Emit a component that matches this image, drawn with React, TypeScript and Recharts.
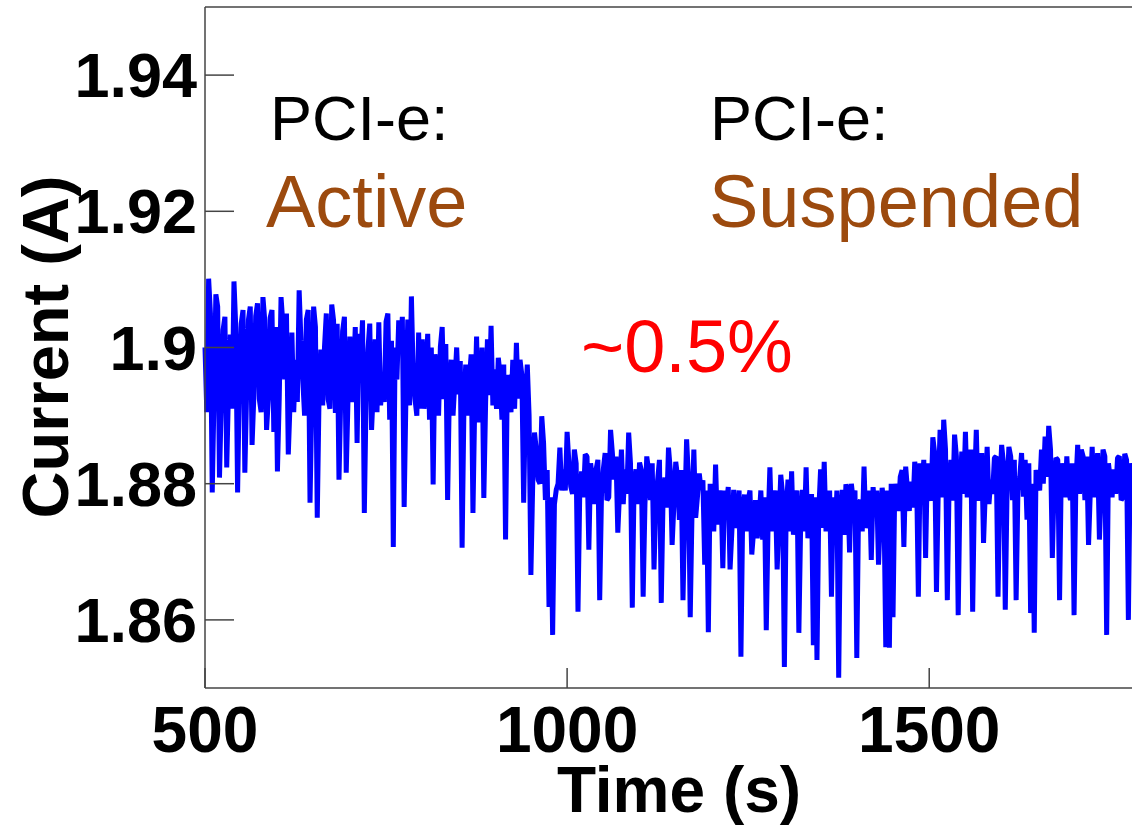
import React from 'react';
import { LineChart, Line, XAxis, YAxis, ReferenceLine } from 'recharts';

// samples, every 5 s from 500 s to 1780 s
const startTime = 500;
const stepSec = 5;
const currentA = [
  1.9000, 1.9101, 1.8787, 1.9078, 1.8809, 1.9026, 1.8824, 1.9019, 1.9097, 1.8787,
  1.9035, 1.8816, 1.9041, 1.8857, 1.9046, 1.8924, 1.9074, 1.8879, 1.9044, 1.8876,
  1.8818, 1.9074, 1.8953, 1.8843, 1.9022, 1.8982, 1.9084, 1.8953, 1.9041, 1.8772,
  1.9060, 1.8750, 1.8997, 1.9001, 1.8924, 1.9063, 1.8904, 1.8806, 1.9024, 1.8816,
  1.9016, 1.8953, 1.8860, 1.8982, 1.8757, 1.8997, 1.8879, 1.9012, 1.9037, 1.8953,
  1.9038, 1.8894, 1.8707, 1.8953, 1.8997, 1.8766, 1.9041, 1.9075, 1.8924, 1.9022,
  1.9012, 1.8953, 1.8894, 1.8799, 1.8968, 1.9001, 1.8924, 1.8776, 1.8982, 1.8950,
  1.8931, 1.8706, 1.8975, 1.8953, 1.8757, 1.9016, 1.8924, 1.8779, 1.9012, 1.9032,
  1.8968, 1.8985, 1.8894, 1.8718, 1.8938, 1.8982, 1.9007, 1.8982, 1.8772, 1.8975,
  1.8666, 1.8875, 1.8806, 1.8899, 1.8776, 1.8619, 1.8578, 1.8791, 1.8853, 1.8821,
  1.8876, 1.8796, 1.8850, 1.8612, 1.8818, 1.8843, 1.8703, 1.8806, 1.8821, 1.8629,
  1.8821, 1.8776, 1.8879, 1.8806, 1.8728, 1.8850, 1.8821, 1.8875, 1.8618, 1.8821,
  1.8831, 1.8634, 1.8840, 1.8776, 1.8674, 1.8806, 1.8625, 1.8809, 1.8853, 1.8710,
  1.8832, 1.8747, 1.8629, 1.8865, 1.8604, 1.8850, 1.8781, 1.8791, 1.8681, 1.8582,
  1.8776, 1.8828, 1.8776, 1.8676, 1.8769, 1.8674, 1.8791, 1.8747, 1.8546, 1.8784,
  1.8776, 1.8696, 1.8776, 1.8747, 1.8718, 1.8585, 1.8824, 1.8776, 1.8674, 1.8813,
  1.8531, 1.8806, 1.8818, 1.8776, 1.8581, 1.8791, 1.8824, 1.8747, 1.8563, 1.8541,
  1.8821, 1.8832, 1.8762, 1.8634, 1.8718, 1.8515, 1.8791, 1.8799, 1.8699, 1.8776,
  1.8544, 1.8776, 1.8825, 1.8747, 1.8688, 1.8762, 1.8681, 1.8794, 1.8560, 1.8559,
  1.8604, 1.8776, 1.8810, 1.8707, 1.8791, 1.8803, 1.8832, 1.8634, 1.8791, 1.8691,
  1.8791, 1.8868, 1.8641, 1.8879, 1.8894, 1.8629, 1.8835, 1.8872, 1.8607, 1.8847,
  1.8876, 1.8821, 1.8612, 1.8879, 1.8806, 1.8713, 1.8854, 1.8806, 1.8838, 1.8634,
  1.8857, 1.8615, 1.8854, 1.8776, 1.8629, 1.8810, 1.8781, 1.8747, 1.8610, 1.8581,
  1.8806, 1.8850, 1.8869, 1.8885, 1.8691, 1.8838, 1.8629, 1.8806, 1.8840, 1.8776,
  1.8607, 1.8857, 1.8850, 1.8776, 1.8710, 1.8854, 1.8806, 1.8718, 1.8850, 1.8578,
  1.8806, 1.8821, 1.8838, 1.8776, 1.8844, 1.8600, 1.8806,
];

// in-between samples (t + 2.5 s), the dense core of the trace
const currentMid = [
  1.8905, 1.9050, 1.8930, 1.9060, 1.8920, 1.9045, 1.8940, 1.8910, 1.9030, 1.8950,
  1.9055, 1.8935, 1.9060, 1.8930, 1.9065, 1.8905, 1.9040, 1.8925, 1.9055, 1.9030,
  1.8925, 1.9035, 1.9050, 1.8920, 1.8905, 1.8920, 1.9010, 1.8900, 1.9055, 1.8920,
  1.9030, 1.8930, 1.8915, 1.9050, 1.8910, 1.9040, 1.9035, 1.8930, 1.9045, 1.8925,
  1.8920, 1.9030, 1.9020, 1.9040, 1.8930, 1.9035, 1.8940, 1.8905, 1.8915, 1.8920,
  1.9050, 1.9010, 1.9000, 1.9040, 1.9045, 1.8930, 1.8915, 1.8960, 1.8900, 1.8910,
  1.8910, 1.9020, 1.9000, 1.8990, 1.8900, 1.9030, 1.9005, 1.8940, 1.8900, 1.9000,
  1.8980, 1.8910, 1.8900, 1.8990, 1.8920, 1.8890, 1.9000, 1.8920, 1.8930, 1.8915,
  1.8910, 1.8960, 1.8975, 1.8960, 1.8905, 1.8910, 1.8925, 1.8960, 1.8920, 1.8900,
  1.8800, 1.8850, 1.8800, 1.8860, 1.8820, 1.8780, 1.8770, 1.8800, 1.8790, 1.8790,
  1.8830, 1.8785, 1.8830, 1.8790, 1.8780, 1.8840, 1.8830, 1.8770, 1.8835, 1.8785,
  1.8845, 1.8780, 1.8845, 1.8840, 1.8790, 1.8770, 1.8785, 1.8830, 1.8800, 1.8770,
  1.8820, 1.8770, 1.8820, 1.8830, 1.8775, 1.8835, 1.8780, 1.8765, 1.8820, 1.8770,
  1.8810, 1.8820, 1.8760, 1.8810, 1.8760, 1.8750, 1.8815, 1.8805, 1.8790, 1.8800,
  1.8730, 1.8740, 1.8790, 1.8790, 1.8795, 1.8730, 1.8735, 1.8790, 1.8760, 1.8730,
  1.8790, 1.8730, 1.8720, 1.8790, 1.8780, 1.8740, 1.8730, 1.8790, 1.8740, 1.8785,
  1.8760, 1.8730, 1.8725, 1.8790, 1.8740, 1.8730, 1.8720, 1.8785, 1.8780, 1.8760,
  1.8735, 1.8730, 1.8790, 1.8780, 1.8790, 1.8750, 1.8725, 1.8790, 1.8800, 1.8790,
  1.8770, 1.8730, 1.8735, 1.8790, 1.8795, 1.8790, 1.8750, 1.8770, 1.8790, 1.8800,
  1.8800, 1.8760, 1.8820, 1.8825, 1.8760, 1.8765, 1.8815, 1.8830, 1.8835, 1.8830,
  1.8775, 1.8845, 1.8790, 1.8780, 1.8850, 1.8800, 1.8775, 1.8840, 1.8790, 1.8785,
  1.8780, 1.8850, 1.8795, 1.8775, 1.8845, 1.8790, 1.8770, 1.8785, 1.8840, 1.8795,
  1.8830, 1.8790, 1.8840, 1.8835, 1.8790, 1.8845, 1.8835, 1.8830, 1.8800, 1.8820,
  1.8790, 1.8800, 1.8810, 1.8850, 1.8800, 1.8835, 1.8830, 1.8780, 1.8790, 1.8830,
  1.8800, 1.8785, 1.8840, 1.8840, 1.8790, 1.8780, 1.8845, 1.8790, 1.8840, 1.8830,
  1.8780, 1.8785, 1.8840, 1.8780, 1.8835, 1.8830,
];

const xTicks = [500, 1000, 1500];
const yTicks = [1.86, 1.88, 1.9, 1.92, 1.94];
const yTickLabels = ['1.86', '1.88', '1.9', '1.92', '1.94'];

const data: { t: number; a: number }[] = [];
currentA.forEach((v, i) => {
  const t = startTime + i * stepSec;
  data.push({ t, a: v });
  if (i < currentMid.length) data.push({ t: t + stepSec / 2, a: currentMid[i] });
});

const FONT = '"Liberation Sans", Arial, sans-serif';
const AXIS = '#444444';
const BROWN = '#9C4A0E';

// plot box edges in page pixels
const LEFT = 205;
const TOP = 7;
const BOTTOM = 688;

const YTick = (props: any) => {
  const { y, payload } = props;
  const i = yTicks.indexOf(payload.value);
  return (
    <g>
      <line x1={LEFT} x2={LEFT + 29} y1={y} y2={y} stroke={AXIS} strokeWidth={1.5} />
      <text x={197} y={y} dy={22} textAnchor="end" fontFamily={FONT} fontWeight="bold" fontSize={63} fill="#000">
        {i >= 0 ? yTickLabels[i] : payload.value}
      </text>
    </g>
  );
};

const XTick = (props: any) => {
  const { x, payload } = props;
  return (
    <g>
      <line x1={x} x2={x} y1={BOTTOM} y2={BOTTOM - 20} stroke={AXIS} strokeWidth={1.5} />
      <text x={x} y={752} textAnchor="middle" fontFamily={FONT} fontWeight="bold" fontSize={64} fill="#000">
        {payload.value}
      </text>
    </g>
  );
};

export default function App() {
  return (
    <div style={{ position: 'absolute', left: 0, top: 0, width: 1132, height: 834, background: '#fff' }}>
      <LineChart width={1132} height={834} data={data} margin={{ top: TOP, right: 0, bottom: 0, left: 0 }}>
        <XAxis
          dataKey="t"
          type="number"
          domain={[500, 1780]}
          ticks={xTicks}
          interval={0}
          height={834 - BOTTOM}
          tickLine={false}
          axisLine={{ stroke: AXIS, strokeWidth: 1.5 }}
          tick={<XTick />}
        />
        <YAxis
          type="number"
          domain={[1.85, 1.95]}
          ticks={yTicks}
          interval={0}
          width={LEFT}
          tickLine={false}
          axisLine={{ stroke: AXIS, strokeWidth: 1.5 }}
          tick={<YTick />}
          allowDataOverflow
        />
        <ReferenceLine y={1.95} stroke={AXIS} strokeWidth={1.5} />
        <Line
          type="linear"
          dataKey="a"
          stroke="#0000FF"
          strokeWidth={5}
          strokeLinejoin="bevel"
          dot={false}
          isAnimationActive={false}
        />
      </LineChart>
      <svg width={1132} height={834} style={{ position: 'absolute', left: 0, top: 0, pointerEvents: 'none' }}>
        <g fontFamily={FONT}>
          <text x={270} y={140} fontSize={63} fill="#000">PCI-e:</text>
          <text x={266} y={227} fontSize={74} fill={BROWN}>Active</text>
          <text x={710} y={140} fontSize={63} fill="#000">PCI-e:</text>
          <text x={709} y={227} fontSize={74} fill={BROWN}>Suspended</text>
          <text x={581} y={372} fontSize={74} fill="#FF0000">~0.5%</text>
          <text x={679} y={812} textAnchor="middle" fontSize={64} fontWeight="bold" fill="#000">Time (s)</text>
          <text
            x={68}
            y={347}
            transform="rotate(-90 68 347)"
            textAnchor="middle"
            fontSize={65}
            fontWeight="bold"
            fill="#000"
          >
            Current (A)
          </text>
        </g>
      </svg>
    </div>
  );
}
